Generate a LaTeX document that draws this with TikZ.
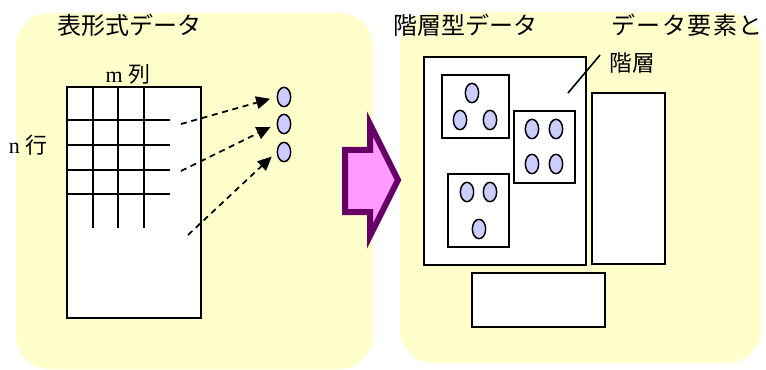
\documentclass[tikz,border=0pt]{standalone}
\usepackage{fontspec}
\setmainfont{Liberation Serif}
\newfontfamily\jp{Noto Sans CJK JP}
\usetikzlibrary{arrows.meta,shapes.geometric,fit}
\definecolor{panelyellow}{HTML}{FFFFCC}
\definecolor{dotblue}{HTML}{CCCCFF}
\definecolor{arrowpink}{HTML}{FF99FF}
\definecolor{arrowpurple}{HTML}{660066}

\begin{document}
\begin{tikzpicture}[x=0.75pt,y=-0.75pt,
  panel/.style={fill=panelyellow, draw=none, rounded corners=25pt, inner sep=0pt},
  box/.style={draw=black, fill=white, line width=1.5pt, inner sep=0pt},
  dot/.style={ellipse, draw=black, fill=dotblue, line width=1.1pt,
              minimum width=10pt, minimum height=14.5pt, inner sep=0pt},
  gridline/.style={line width=1.5pt},
  flow/.style={line width=1.3pt, dash pattern=on 4.5pt off 3.5pt,
               -{Triangle[length=10.5pt,width=9.5pt]}, shorten >=5pt},
  title/.style={font=\jp\fontsize{18pt}{18pt}\selectfont, inner sep=0pt},
  label/.style={font=\fontsize{16.5pt}{16.5pt}\selectfont, inner sep=0pt},
]
\useasboundingbox (0,0) rectangle (766,370);

% background panels
\node[panel, fit={(16,13) (373,369)}] (leftpanel) {};
\node[panel, fit={(400,12) (761,363)}] (rightpanel) {};

% titles
\node[title] (t1) at (129,25) {表形式データ};
\node[title] (t2) at (465,25) {階層型データ};
\node[title, anchor=west] (t3) at (611,25) {\addfontfeature{LetterSpace=6}データ要素と};

% table of n rows and m columns
\node[box, fit={(67,87) (201,318)}] (table) {};
\foreach \x in {93,118,144} \draw[gridline] (\x,87) -- (\x,228);
\foreach \y in {120,145,170,194} \draw[gridline] (67,\y) -- (170,\y);
\node[label] (mcol) at (128,74) {m {\jp 列}};
\node[label] (nrow) at (28,145) {n {\jp 行}};

% data elements
\node[dot] (o1) at (284,97) {};
\node[dot] (o2) at (284,124) {};
\node[dot] (o3) at (284,152) {};
\coordinate (s1) at (181,124);
\coordinate (s2) at (181,171);
\coordinate (s3) at (188,235);
\draw[flow] (s1) -- (o1.west);
\draw[flow] (s2) -- (o2.west);
\draw[flow] (s3) -- (o3.west);

% transformation arrow
\draw[line width=4.5pt, draw=arrowpurple, fill=arrowpink, line join=miter]
  (345,150) -- (370,150) -- (370,124) -- (398,180) -- (370,236)
  -- (370,212) -- (345,212) -- cycle;

% hierarchical data
\node[box, fit={(424,57) (586,265)}] (outer) {};
\node[box, fit={(442,75) (509,138)}] (g1) {};
\node[box, fit={(514,111) (575,183)}] (g2) {};
\node[box, fit={(448,174) (509,247)}] (g3) {};
\node[box, fit={(592,93) (665,264)}] (side) {};
\node[box, fit={(472,273) (605,327)}] (bottom) {};

\node[dot] (a1) at (472,93) {};
\node[dot] (a2) at (460,120) {};
\node[dot] (a3) at (490,120) {};
\node[dot] (b1) at (532,129) {};
\node[dot] (b2) at (556,129) {};
\node[dot] (b3) at (532,164) {};
\node[dot] (b4) at (556,164) {};
\node[dot] (c1) at (467,192) {};
\node[dot] (c2) at (490,192) {};
\node[dot] (c3) at (479,229) {};

% hierarchy callout
\node[font=\jp\fontsize{17pt}{17pt}\selectfont, inner sep=0pt] (lbl) at (632,63) {階層};
\coordinate (lq) at (600,55);
\coordinate (lp) at (568,93);
\draw[line width=1.2pt] (lq) -- (lp);
\end{tikzpicture}
\end{document}
